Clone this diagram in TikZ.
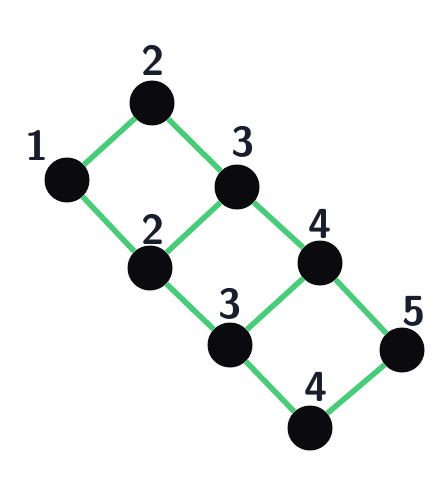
\documentclass[tikz,border=0pt]{standalone}
\usepackage{tikz}
\usetikzlibrary{calc,positioning}
\definecolor{edgegreen}{RGB}{70,205,120}
\definecolor{ink}{RGB}{10,10,15}
\definecolor{pen}{RGB}{25,30,45}

\begin{document}
\begin{tikzpicture}[x=1pt, y=-1pt,
    dot/.style={circle, fill=ink, minimum size=45pt, inner sep=0pt},
    lbl/.style={font=\fontsize{42}{42}\selectfont\sffamily\bfseries, text=pen}]
    \useasboundingbox[fill=white] (0,0) rectangle (438,484);
    % vertices with their numbers
    \foreach \n/\x/\y/\lx/\ly/\t in {a/67/180/37/145/1, b/152/103/153/60/2, c/237/187/243/142/3,
      d/150/268/153/229/2, e/320/263/320/224/4, f/230/345/230/304/3,
      g/402/350/414/311/5, h/310/428/316/387/4} {
      \node[dot] (\n) at (\x,\y) {};
      \node[lbl] (\n-lbl) at (\lx,\ly) {\t};
    }
    % edges
    \foreach \s/\e in {a/b,b/c,a/d,d/c,c/e,d/f,f/e,e/g,f/h,h/g} {
      \draw[edgegreen, line width=5.5pt] (\s) -- (\e);
    }
  \end{tikzpicture}
\end{document}
